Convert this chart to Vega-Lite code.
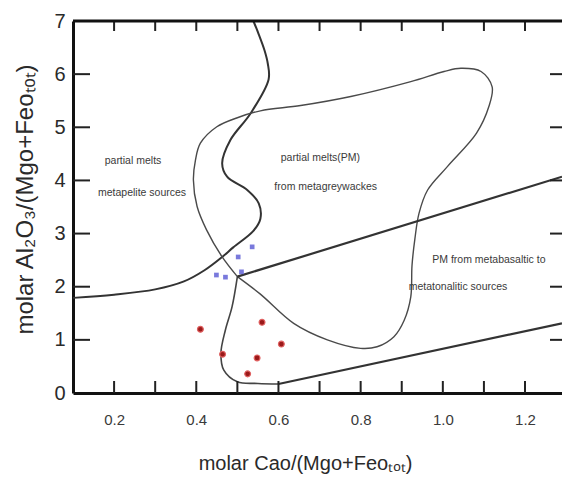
{
  "$schema": "https://vega.github.io/schema/vega-lite/v6.json",
  "width": 489,
  "height": 372,
  "autosize": "none",
  "padding": {"left": 73, "top": 21, "right": 0, "bottom": 88},
  "background": "white",
  "config": {"view": {"stroke": null}, "font": "Liberation Sans"},
  "datasets": {
    "boundaries": [
      {"curve": "A", "i": 1, "x": 0.1, "y": 1.79},
      {"curve": "A", "i": 2, "x": 0.2, "y": 1.85},
      {"curve": "A", "i": 3, "x": 0.3, "y": 1.95},
      {"curve": "A", "i": 4, "x": 0.37, "y": 2.1},
      {"curve": "A", "i": 5, "x": 0.42, "y": 2.31},
      {"curve": "A", "i": 6, "x": 0.463, "y": 2.56},
      {"curve": "A", "i": 7, "x": 0.49, "y": 2.74},
      {"curve": "A", "i": 8, "x": 0.539, "y": 3.05},
      {"curve": "A", "i": 9, "x": 0.556, "y": 3.28},
      {"curve": "A", "i": 10, "x": 0.552, "y": 3.57},
      {"curve": "A", "i": 11, "x": 0.524, "y": 3.82},
      {"curve": "A", "i": 12, "x": 0.475, "y": 4.07},
      {"curve": "A", "i": 13, "x": 0.463, "y": 4.32},
      {"curve": "A", "i": 14, "x": 0.483, "y": 4.76},
      {"curve": "A", "i": 15, "x": 0.532, "y": 5.26},
      {"curve": "A", "i": 16, "x": 0.576, "y": 5.9},
      {"curve": "A", "i": 17, "x": 0.574, "y": 6.2},
      {"curve": "A", "i": 18, "x": 0.566, "y": 6.45},
      {"curve": "A", "i": 19, "x": 0.552, "y": 6.75},
      {"curve": "A", "i": 20, "x": 0.539, "y": 7.0},
      {"curve": "B", "i": 1, "x": 0.5, "y": 2.19},
      {"curve": "B", "i": 2, "x": 0.463, "y": 2.56},
      {"curve": "B", "i": 3, "x": 0.425, "y": 3.07},
      {"curve": "B", "i": 4, "x": 0.402, "y": 3.51},
      {"curve": "B", "i": 5, "x": 0.393, "y": 4.01},
      {"curve": "B", "i": 6, "x": 0.398, "y": 4.38},
      {"curve": "B", "i": 7, "x": 0.41, "y": 4.7},
      {"curve": "B", "i": 8, "x": 0.45, "y": 5.01},
      {"curve": "B", "i": 9, "x": 0.5, "y": 5.18},
      {"curve": "B", "i": 10, "x": 0.556, "y": 5.31},
      {"curve": "B", "i": 11, "x": 0.654, "y": 5.41},
      {"curve": "B", "i": 12, "x": 0.776, "y": 5.58},
      {"curve": "B", "i": 13, "x": 0.922, "y": 5.86},
      {"curve": "B", "i": 14, "x": 1.003, "y": 6.05},
      {"curve": "B", "i": 15, "x": 1.044, "y": 6.11},
      {"curve": "B", "i": 16, "x": 1.093, "y": 6.05},
      {"curve": "B", "i": 17, "x": 1.12, "y": 5.76},
      {"curve": "B", "i": 18, "x": 1.112, "y": 5.39},
      {"curve": "B", "i": 19, "x": 1.082, "y": 4.89},
      {"curve": "B", "i": 20, "x": 1.011, "y": 4.26},
      {"curve": "B", "i": 21, "x": 0.963, "y": 3.82},
      {"curve": "B", "i": 22, "x": 0.942, "y": 3.38},
      {"curve": "B", "i": 23, "x": 0.932, "y": 2.9},
      {"curve": "B", "i": 24, "x": 0.925, "y": 2.4},
      {"curve": "B", "i": 25, "x": 0.922, "y": 1.81},
      {"curve": "B", "i": 26, "x": 0.906, "y": 1.37},
      {"curve": "B", "i": 27, "x": 0.881, "y": 1.06},
      {"curve": "B", "i": 28, "x": 0.84, "y": 0.87},
      {"curve": "B", "i": 29, "x": 0.8, "y": 0.84},
      {"curve": "B", "i": 30, "x": 0.719, "y": 1.0},
      {"curve": "B", "i": 31, "x": 0.637, "y": 1.31},
      {"curve": "B", "i": 32, "x": 0.556, "y": 1.86},
      {"curve": "B", "i": 33, "x": 0.5, "y": 2.19},
      {"curve": "C", "i": 1, "x": 0.5, "y": 2.19},
      {"curve": "C", "i": 2, "x": 0.487, "y": 1.62},
      {"curve": "C", "i": 3, "x": 0.471, "y": 1.19},
      {"curve": "C", "i": 4, "x": 0.46, "y": 0.75},
      {"curve": "C", "i": 5, "x": 0.467, "y": 0.43},
      {"curve": "C", "i": 6, "x": 0.5, "y": 0.21},
      {"curve": "C", "i": 7, "x": 0.55, "y": 0.18},
      {"curve": "C", "i": 8, "x": 0.6, "y": 0.17},
      {"curve": "D", "i": 1, "x": 0.6, "y": 0.17},
      {"curve": "D", "i": 2, "x": 1.29, "y": 1.31},
      {"curve": "E", "i": 1, "x": 0.5, "y": 2.19},
      {"curve": "E", "i": 2, "x": 1.29, "y": 4.07}
    ],
    "samples": [
      {"group": "blue", "x": 0.536, "y": 2.75},
      {"group": "blue", "x": 0.502, "y": 2.56},
      {"group": "blue", "x": 0.51, "y": 2.28},
      {"group": "blue", "x": 0.449, "y": 2.22},
      {"group": "blue", "x": 0.471, "y": 2.18},
      {"group": "red", "x": 0.41, "y": 1.2},
      {"group": "red", "x": 0.464, "y": 0.73},
      {"group": "red", "x": 0.56, "y": 1.33},
      {"group": "red", "x": 0.607, "y": 0.92},
      {"group": "red", "x": 0.548, "y": 0.66},
      {"group": "red", "x": 0.525, "y": 0.36}
    ],
    "notes": [
      {"text": "partial melts", "x": 0.246, "y": 4.37},
      {"text": "metapelite sources", "x": 0.268, "y": 3.76},
      {"text": "partial melts(PM)", "x": 0.702, "y": 4.42},
      {"text": "from metagreywackes", "x": 0.715, "y": 3.88},
      {"text": "PM from metabasaltic to", "x": 1.112, "y": 2.5},
      {"text": "metatonalitic sources", "x": 1.037, "y": 2.0}
    ]
  },
  "layer": [
    {
      "data": {"name": "boundaries"},
      "transform": [{"filter": "datum.curve == 'A'"}],
      "mark": {"type": "line", "interpolate": "catmull-rom", "stroke": "#333333", "strokeWidth": 2},
      "encoding": {
        "x": {
          "field": "x", "type": "quantitative",
          "scale": {"domain": [0.1, 1.29], "nice": false, "zero": false},
          "axis": {
            "orient": "bottom",
            "values": [0.2, 0.4, 0.6, 0.8, 1.0, 1.2],
            "format": ".1f",
            "grid": false, "ticks": false,
            "domainColor": "#111111", "domainWidth": 3,
            "labelFontSize": 15, "labelColor": "#3a3a3a", "labelPadding": 19,
            "title": "molar Cao/(Mgo+Feoₜₒₜ)",
            "titleFontSize": 20, "titleFontWeight": "normal", "titleColor": "#2a2a2a",
            "titleX": 232, "titleY": 70, "titleBaseline": "middle", "titleAlign": "center"
          }
        },
        "y": {
          "field": "y", "type": "quantitative",
          "scale": {"domain": [0, 7], "nice": false, "zero": false},
          "axis": {
            "orient": "left",
            "values": [0, 1, 2, 3, 4, 5, 6, 7],
            "format": "d",
            "grid": false, "ticks": false,
            "domainColor": "#111111", "domainWidth": 3,
            "labelFontSize": 20, "labelColor": "#2a2a2a", "labelPadding": 8,
            "title": "molar Al₂O₃/(Mgo+Feoₜₒₜ)",
            "titleFontSize": 24, "titleFontWeight": "normal", "titleColor": "#2a2a2a",
            "titleX": -48, "titleY": 178, "titleBaseline": "middle", "titleAlign": "center", "titleAngle": -90
          }
        },
        "order": {"field": "i", "type": "quantitative"}
      }
    },
    {
      "data": {"name": "boundaries"},
      "transform": [{"filter": "datum.curve == 'B'"}],
      "mark": {"type": "line", "interpolate": "catmull-rom", "stroke": "#4a4a4a", "strokeWidth": 1.4},
      "encoding": {
        "x": {"field": "x", "type": "quantitative"},
        "y": {"field": "y", "type": "quantitative"},
        "order": {"field": "i", "type": "quantitative"}
      }
    },
    {
      "data": {"name": "boundaries"},
      "transform": [{"filter": "datum.curve == 'C'"}],
      "mark": {"type": "line", "interpolate": "catmull-rom", "stroke": "#444444", "strokeWidth": 1.6},
      "encoding": {
        "x": {"field": "x", "type": "quantitative"},
        "y": {"field": "y", "type": "quantitative"},
        "order": {"field": "i", "type": "quantitative"}
      }
    },
    {
      "data": {"name": "boundaries"},
      "transform": [{"filter": "datum.curve == 'D' || datum.curve == 'E'"}],
      "mark": {"type": "line", "stroke": "#333333", "strokeWidth": 2.2},
      "encoding": {
        "x": {"field": "x", "type": "quantitative"},
        "y": {"field": "y", "type": "quantitative"},
        "detail": {"field": "curve", "type": "nominal"},
        "order": {"field": "i", "type": "quantitative"}
      }
    },
    {
      "data": {"name": "notes"},
      "mark": {"type": "text", "fontSize": 10.5, "color": "#3a3a3a", "align": "center", "baseline": "middle"},
      "encoding": {
        "x": {"field": "x", "type": "quantitative"},
        "y": {"field": "y", "type": "quantitative"},
        "text": {"field": "text"}
      }
    },
    {
      "data": {"name": "samples"},
      "transform": [{"filter": "datum.group == 'blue'"}],
      "mark": {"type": "square", "size": 22, "color": "#6a6ad8", "opacity": 0.9, "filled": true},
      "encoding": {
        "x": {"field": "x", "type": "quantitative"},
        "y": {"field": "y", "type": "quantitative"}
      }
    },
    {
      "data": {"name": "samples"},
      "transform": [{"filter": "datum.group == 'red'"}],
      "mark": {"type": "circle", "size": 34, "fill": "#9a1a1a", "stroke": "#e06060", "strokeWidth": 1.2, "opacity": 1},
      "encoding": {
        "x": {"field": "x", "type": "quantitative"},
        "y": {"field": "y", "type": "quantitative"}
      }
    },
    {
      "data": {"values": [{"v": 0.2}, {"v": 0.3}, {"v": 0.4}, {"v": 0.5}, {"v": 0.6}, {"v": 0.7}, {"v": 0.8}, {"v": 0.9}, {"v": 1.0}, {"v": 1.1}, {"v": 1.2}]},
      "mark": {"type": "tick", "orient": "vertical", "size": 12, "thickness": 2, "color": "#222222", "opacity": 1, "yOffset": -6},
      "encoding": {
        "x": {"field": "v", "type": "quantitative"},
        "y": {"datum": 0, "type": "quantitative"}
      }
    },
    {
      "data": {"values": [{"v": 0.2}, {"v": 0.3}, {"v": 0.4}, {"v": 0.5}, {"v": 0.6}, {"v": 0.7}, {"v": 0.8}, {"v": 0.9}, {"v": 1.0}, {"v": 1.1}, {"v": 1.2}]},
      "mark": {"type": "tick", "orient": "vertical", "size": 10, "thickness": 2, "color": "#222222", "opacity": 1, "yOffset": 5},
      "encoding": {
        "x": {"field": "v", "type": "quantitative"},
        "y": {"datum": 7, "type": "quantitative"}
      }
    },
    {
      "data": {"values": [{"v": 1}, {"v": 2}, {"v": 3}, {"v": 4}, {"v": 5}, {"v": 6}]},
      "mark": {"type": "tick", "orient": "horizontal", "size": 17, "thickness": 2, "color": "#222222", "opacity": 1, "xOffset": 8.5},
      "encoding": {
        "y": {"field": "v", "type": "quantitative"},
        "x": {"datum": 0.1, "type": "quantitative"}
      }
    },
    {
      "data": {"values": [{"v": 1}, {"v": 2}, {"v": 3}, {"v": 4}, {"v": 5}, {"v": 6}]},
      "mark": {"type": "tick", "orient": "horizontal", "size": 12, "thickness": 2, "color": "#222222", "opacity": 1, "xOffset": -6},
      "encoding": {
        "y": {"field": "v", "type": "quantitative"},
        "x": {"datum": 1.29, "type": "quantitative"}
      }
    },
    {
      "data": {"values": [{"edge": "top"}]},
      "mark": {"type": "rule", "stroke": "#111111", "strokeWidth": 3},
      "encoding": {
        "x": {"datum": 0.1, "type": "quantitative"},
        "x2": {"datum": 1.29},
        "y": {"datum": 7, "type": "quantitative"}
      }
    }
  ]
}
